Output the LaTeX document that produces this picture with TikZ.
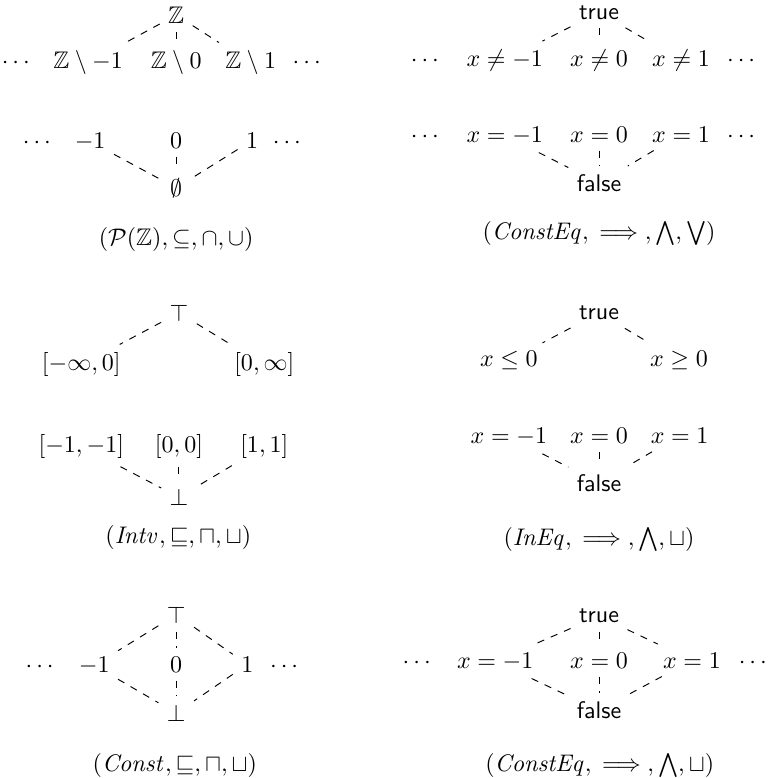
\documentclass[tikz,border=0pt]{standalone}
\usepackage{amsmath,amssymb}
\usepackage{tikz}
\tikzset{
  latedge/.style = {dashed},
  onrow/.style   = {anchor=base},
  capt/.style    = {anchor=base}
}
\newcommand{\tval}{\textsf{true}}
\newcommand{\fval}{\textsf{false}}

\begin{document}
\begin{tikzpicture}
  \useasboundingbox (0,0) rectangle (11.24,-11.39);

  % powerset of Z
  \node (ztop) at (2.58,-0.22) {$\mathbb{Z}$};
  \node[onrow] (zl) at (0.26,-1.01) {$\cdots$};
  \node[onrow] (zm) at (1.29,-1.01) {$\mathbb{Z}\setminus -1$};
  \node[onrow] (zz) at (2.58,-1.01) {$\mathbb{Z}\setminus 0$};
  \node[onrow] (zp) at (3.67,-1.01) {$\mathbb{Z}\setminus 1$};
  \node[onrow] (zr) at (4.52,-1.01) {$\cdots$};
  \node[onrow] (sl) at (0.57,-2.17) {$\cdots$};
  \node[onrow] (sm) at (1.32,-2.17) {$-1$};
  \node[onrow] (sz) at (2.58,-2.17) {$0$};
  \node[onrow] (sp) at (3.69,-2.17) {$1$};
  \node[onrow] (sr) at (4.23,-2.17) {$\cdots$};
  \node (empty) at (2.58,-2.75) {$\emptyset$};
  \draw[latedge] (ztop) -- (zm);
  \draw[latedge] (ztop) -- (zz);
  \draw[latedge] (ztop) -- (zp);
  \draw[latedge] (sm) -- (empty);
  \draw[latedge] (sz) -- (empty);
  \draw[latedge] (sp) -- (empty);
  \node[capt] (capA) at (2.58,-3.60) {$(\mathcal{P}(\mathbb{Z}),\subseteq,\cap,\cup)$};

  % constant equalities, full
  \node (ttop) at (8.77,-0.18) {\tval};
  \node[onrow] (nl) at (6.25,-0.97) {$\cdots$};
  \node[onrow] (nm) at (7.39,-0.97) {$x\neq -1$};
  \node[onrow] (nz) at (8.77,-0.97) {$x\neq 0$};
  \node[onrow] (np) at (9.97,-0.97) {$x\neq 1$};
  \node[onrow] (nr) at (10.88,-0.97) {$\cdots$};
  \node[onrow] (el) at (6.25,-2.08) {$\cdots$};
  \node[onrow] (em) at (7.39,-2.08) {$x=-1$};
  \node[onrow] (ez) at (8.77,-2.08) {$x=0$};
  \node[onrow] (ep) at (9.97,-2.08) {$x=1$};
  \node[onrow] (er) at (10.88,-2.08) {$\cdots$};
  \node (fbot) at (8.77,-2.68) {\fval};
  \draw[latedge] (ttop) -- (nm);
  \draw[latedge] (ttop) -- (nz);
  \draw[latedge] (ttop) -- (np);
  \draw[latedge] (em) -- (fbot);
  \draw[latedge] (ez) -- (fbot);
  \draw[latedge] (ep) -- (fbot);
  \node[capt] (capB) at (8.77,-3.50) {$(\mathit{ConstEq},\implies,\bigwedge,\bigvee)$};

  % intervals
  \node (itop) at (2.62,-4.58) {$\top$};
  \node[onrow] (ineg) at (1.19,-5.43) {$[-\infty,0]$};
  \node[onrow] (ipos) at (3.87,-5.43) {$[0,\infty]$};
  \node[onrow] (im) at (1.19,-6.62) {$[-1,-1]$};
  \node[onrow] (iz) at (2.62,-6.62) {$[0,0]$};
  \node[onrow] (ip) at (3.87,-6.62) {$[1,1]$};
  \node (ibot) at (2.62,-7.28) {$\bot$};
  \draw[latedge] (itop) -- (ineg);
  \draw[latedge] (itop) -- (ipos);
  \draw[latedge] (im) -- (ibot);
  \draw[latedge] (iz) -- (ibot);
  \draw[latedge] (ip) -- (ibot);
  \node[capt] (capC) at (2.61,-7.96) {$(\mathit{Intv},\sqsubseteq,\sqcap,\sqcup)$};

  % inequalities
  \node (qtop) at (8.77,-4.58) {\tval};
  \node[onrow] (qle) at (7.45,-5.37) {$x\leq 0$};
  \node[onrow] (qge) at (9.94,-5.37) {$x\geq 0$};
  \node[onrow] (qm) at (7.45,-6.49) {$x=-1$};
  \node[onrow] (qz) at (8.77,-6.49) {$x=0$};
  \node[onrow] (qp) at (9.95,-6.49) {$x=1$};
  \node (qbot) at (8.77,-7.07) {\fval};
  \draw[latedge] (qtop) -- (qle);
  \draw[latedge] (qtop) -- (qge);
  \draw[latedge] (qm) -- (qbot);
  \draw[latedge] (qz) -- (qbot);
  \draw[latedge] (qp) -- (qbot);
  \node[capt] (capD) at (8.77,-7.99) {$(\mathit{InEq},\implies,\bigwedge,\sqcup)$};

  % constants
  \node (ctop) at (2.58,-9.00) {$\top$};
  \node[onrow] (cl) at (0.61,-9.84) {$\cdots$};
  \node[onrow] (cm) at (1.38,-9.84) {$-1$};
  \node[onrow] (cz) at (2.58,-9.84) {$0$};
  \node[onrow] (cp) at (3.62,-9.84) {$1$};
  \node[onrow] (cr) at (4.19,-9.84) {$\cdots$};
  \node (cbot) at (2.58,-10.44) {$\bot$};
  \draw[latedge] (ctop) -- (cm);
  \draw[latedge] (ctop) -- (cz);
  \draw[latedge] (ctop) -- (cp);
  \draw[latedge] (cm) -- (cbot);
  \draw[latedge] (cz) -- (cbot);
  \draw[latedge] (cp) -- (cbot);
  \node[capt] (capE) at (2.56,-11.30) {$(\mathit{Const},\sqsubseteq,\sqcap,\sqcup)$};

  % constant equalities, flat
  \node (ktop) at (8.77,-9.02) {\tval};
  \node[onrow] (kl) at (6.13,-9.78) {$\cdots$};
  \node[onrow] (km) at (7.25,-9.78) {$x=-1$};
  \node[onrow] (kz) at (8.77,-9.78) {$x=0$};
  \node[onrow] (kp) at (10.13,-9.78) {$x=1$};
  \node[onrow] (kr) at (11.05,-9.78) {$\cdots$};
  \node (kbot) at (8.77,-10.40) {\fval};
  \draw[latedge] (ktop) -- (km);
  \draw[latedge] (ktop) -- (kz);
  \draw[latedge] (ktop) -- (kp);
  \draw[latedge] (km) -- (kbot);
  \draw[latedge] (kz) -- (kbot);
  \draw[latedge] (kp) -- (kbot);
  \node[capt] (capF) at (8.78,-11.29) {$(\mathit{ConstEq},\implies,\bigwedge,\sqcup)$};
\end{tikzpicture}
\end{document}
